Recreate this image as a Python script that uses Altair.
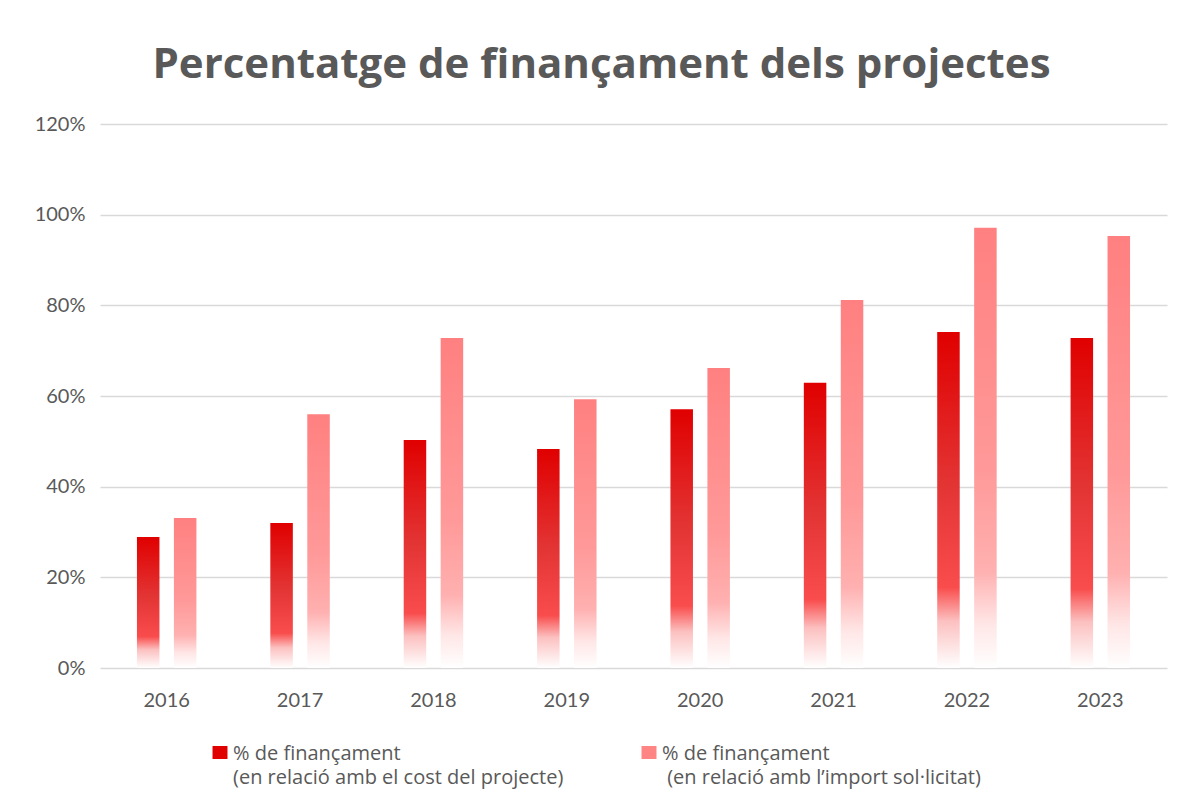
import altair as alt
import pandas as pd

years = ["2016", "2017", "2018", "2019", "2020", "2021", "2022", "2023"]
cost_pct = [28.9, 32.0, 50.3, 48.3, 57.1, 62.9, 74.1, 72.8]
requested_pct = [33.1, 56.0, 72.8, 59.3, 66.2, 81.2, 97.1, 95.3]
series_names = [
    "% de finançament|(en relació amb el cost del projecte)",
    "% de finançament|\u200b\u00a0(en relació amb l’import sol·licitat)",
]
y_ticks = [0, 20, 40, 60, 80, 100, 120]
title_text = "Percentatge de finançament dels projectes"

rows = []
for y, c, r in zip(years, cost_pct, requested_pct):
    rows.append({"year": y, "series": series_names[0], "value": c / 100})
    rows.append({"year": y, "series": series_names[1], "value": r / 100})
df = pd.DataFrame(rows)

grad_cost = alt.LinearGradient(
    gradient="linear", x1=0, y1=0, x2=0, y2=1,
    stops=[
        alt.GradientStop(color="#E00000", offset=0),
        alt.GradientStop(color="#E33434", offset=0.45),
        alt.GradientStop(color="#F94C4C", offset=0.76),
        alt.GradientStop(color="#FCC0C0", offset=0.86),
        alt.GradientStop(color="#FFFFFF", offset=1),
    ],
)
grad_req = alt.LinearGradient(
    gradient="linear", x1=0, y1=0, x2=0, y2=1,
    stops=[
        alt.GradientStop(color="#FF8080", offset=0),
        alt.GradientStop(color="#FF9999", offset=0.55),
        alt.GradientStop(color="#FFB0B0", offset=0.78),
        alt.GradientStop(color="#FFE6E6", offset=0.9),
        alt.GradientStop(color="#FFFFFF", offset=1),
    ],
)

x_enc = alt.X(
    "year:N", sort=years, title=None,
    scale=alt.Scale(paddingInner=0, paddingOuter=0),
    axis=alt.Axis(labelAngle=0, ticks=False, domain=False, labelPadding=22,
                  labelFontSize=20, labelColor="#595959", labelFont="Lato"),
)
y_enc = alt.Y(
    "value:Q", title=None,
    scale=alt.Scale(domain=[0, 1.2], nice=False),
    axis=alt.Axis(values=[v / 100 for v in y_ticks], format=".0%", ticks=False,
                  domain=False, labelPadding=15, labelFontSize=20,
                  labelColor="#595959", labelFont="Lato",
                  gridColor="#D9D9D9", gridWidth=1.5),
)
xoff = alt.XOffset(
    "series:N",
    scale=alt.Scale(domain=series_names, paddingInner=0.391, paddingOuter=1.0),
)

base = alt.Chart(df)

bars_cost = base.transform_filter(
    alt.datum.series == series_names[0]
).mark_bar(color=grad_cost).encode(x=x_enc, y=y_enc, xOffset=xoff)

bars_req = base.transform_filter(
    alt.datum.series == series_names[1]
).mark_bar(color=grad_req).encode(x=x_enc, y=y_enc, xOffset=xoff)

legend_layer = base.mark_square(opacity=0, size=1).encode(
    x=x_enc, y=y_enc, xOffset=xoff,
    color=alt.Color(
        "series:N",
        scale=alt.Scale(domain=series_names, range=["#E00000", "#FF8585"]),
        legend=alt.Legend(
            title=None, orient="none", legendX=110, legendY=626,
            direction="horizontal",
            symbolType="M-1.07,-2H1.07V-0.14H-1.07Z", symbolSize=196,
            symbolOpacity=1, symbolStrokeWidth=0,
            labelExpr="split(datum.label, '|')",
            labelFontSize=20, labelColor="#595959", labelFont="Open Sans",
            labelLimit=600, labelBaseline="alphabetic", labelOffset=3,
            columnPadding=75,
        ),
    ),
)

chart = alt.layer(bars_cost, bars_req, legend_layer).properties(
    width=1067, height=544,
    autosize=alt.AutoSizeParams(type="none"),
    padding={"left": 92, "top": 116, "right": 12, "bottom": 140},
    title=alt.TitleParams(
        title_text, fontSize=42, font="Open Sans", fontWeight="bold",
        color="#595959", anchor="middle", dx=-32, offset=27,
    ),
).configure(
    background="white",
    style={"guide-label": {"lineHeight": 24}},
).configure_view(stroke=None)

chart.save("out.html", embed_options={"renderer": "svg", "actions": False})
